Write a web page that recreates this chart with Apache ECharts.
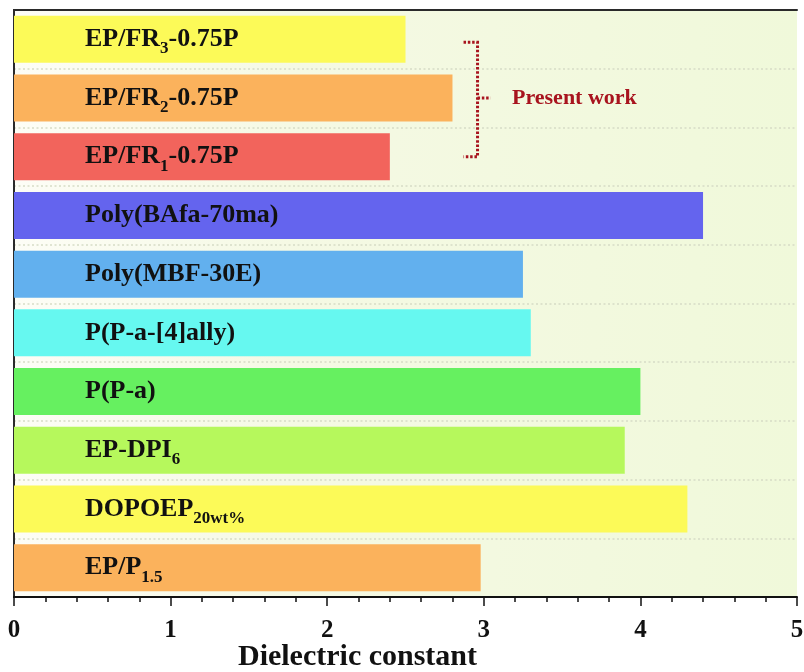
<!DOCTYPE html>
<html>
<head>
<meta charset="utf-8">
<script src="https://cdn.jsdelivr.net/npm/echarts@6/dist/echarts.min.js"></script>
<style>
  html, body { margin: 0; padding: 0; background: #ffffff; }
  #chart { width: 804px; height: 672px; }
</style>
</head>
<body>
<div id="chart"></div>
<script>
// Materials, listed top to bottom
const materials = [
  'EP/FR3-0.75P', 'EP/FR2-0.75P', 'EP/FR1-0.75P',
  'Poly(BAfa-70ma)', 'Poly(MBF-30E)', 'P(P-a-[4]ally)',
  'P(P-a)', 'EP-DPI6', 'DOPOEP20wt%', 'EP/P1.5'
];
// Bar labels: [main text, subscript, trailing text]
const labelParts = [
  ['EP/FR', '3', '-0.75P'], ['EP/FR', '2', '-0.75P'], ['EP/FR', '1', '-0.75P'],
  ['Poly(BAfa-70ma)', '', ''], ['Poly(MBF-30E)', '', ''], ['P(P-a-[4]ally)', '', ''],
  ['P(P-a)', '', ''], ['EP-DPI', '6', ''], ['DOPOEP', '20wt%', ''], ['EP/P', '1.5', '']
];
// Dielectric constant values
const dielectric = [2.5, 2.8, 2.4, 4.4, 3.25, 3.3, 4.0, 3.9, 4.3, 2.98];
const barColors = [
  '#fcfa58', '#fbb25c', '#f2645c', '#6464ee', '#62b0ee',
  '#66f8f0', '#66f060', '#b6f85c', '#fcfa58', '#fbb25c'
];
const xTicks = [0, 1, 2, 3, 4, 5];
const presentWork = ['EP/FR3-0.75P', 'EP/FR2-0.75P', 'EP/FR1-0.75P'];

const SERIF = '"Liberation Serif", "Times New Roman", serif';
const chart = echarts.init(document.getElementById('chart'), null, { renderer: 'canvas' });

function richLabel(idx) {
  const p = labelParts[idx];
  let s = '{m|' + p[0] + '}';
  if (p[1]) s += '{s|' + p[1] + '}';
  if (p[2]) s += '{m|' + p[2] + '}';
  return s;
}

const frameLine = { show: true, lineStyle: { color: '#2a2a2a', width: 2 } };

chart.setOption({
  backgroundColor: '#ffffff',
  animation: false,
  grid: {
    left: 14, right: 7, top: 10, bottom: 75,
    outerBoundsMode: 'none',
    containLabel: false,
    show: true,
    borderWidth: 0,
    backgroundColor: new echarts.graphic.LinearGradient(0, 0, 1, 0, [
      { offset: 0, color: '#fdfdf6' },
      { offset: 0.35, color: '#f5f9e4' },
      { offset: 1, color: '#f0f9da' }
    ])
  },
  xAxis: [{
    type: 'value',
    min: xTicks[0], max: xTicks[xTicks.length - 1], interval: 1,
    axisLine: { show: true, lineStyle: { color: '#111', width: 2 } },
    axisTick: { show: true, length: 9, lineStyle: { color: '#111', width: 1.5 } },
    minorTick: { show: true, splitNumber: 5, length: 5, lineStyle: { color: '#111', width: 1.5 } },
    splitLine: { show: false },
    axisLabel: {
      margin: 21, color: '#111',
      fontFamily: SERIF, fontWeight: 'bold', fontSize: 25
    },
    name: 'Dielectric constant',
    nameLocation: 'middle',
    nameMoveOverlap: false,
    nameGap: 45,
    nameTextStyle: {
      color: '#111', fontFamily: SERIF, fontWeight: 'bold', fontSize: 30,
      padding: [0, 96, 0, 0]
    }
  }, {
    // top frame edge
    type: 'value', position: 'top',
    min: xTicks[0], max: xTicks[xTicks.length - 1], interval: 1,
    axisLine: frameLine, axisTick: { show: false }, axisLabel: { show: false },
    splitLine: { show: false }
  }],
  yAxis: [{
    type: 'category',
    data: materials,
    inverse: true,
    axisLine: { show: true, lineStyle: { color: '#111', width: 2 } },
    axisTick: { show: false },
    axisLabel: { show: false },
    splitLine: {
      show: true,
      lineStyle: { color: '#d6dcc6', width: 1.5, type: [2, 2.5] }
    }
  }, {
    // right frame edge
    type: 'category', position: 'right',
    data: materials, inverse: true,
    axisLine: frameLine, axisTick: { show: false }, axisLabel: { show: false },
    splitLine: { show: false }
  }],
  series: [{
    type: 'bar',
    xAxisIndex: 0, yAxisIndex: 0,
    data: dielectric.map((v, i) => ({ value: v, itemStyle: { color: barColors[i] } })),
    barCategoryGap: '20%',
    label: {
      show: true,
      position: [71, '50%'],
      align: 'left',
      verticalAlign: 'middle',
      formatter: (p) => richLabel(p.dataIndex),
      rich: {
        m: { fontFamily: SERIF, fontWeight: 'bold', fontSize: 26, color: '#111', lineHeight: 36 },
        s: { fontFamily: SERIF, fontWeight: 'bold', fontSize: 17, color: '#111', lineHeight: 16, verticalAlign: 'bottom' }
      }
    }
  }]
});

// Dotted bracket grouping the present-work samples, placed through the axes
function drawBracket() {
  const xBr = chart.convertToPixel({ xAxisIndex: 0 }, 2.96);
  const yTop = chart.convertToPixel({ yAxisIndex: 0 }, presentWork[0]) + 3;
  const yMid = chart.convertToPixel({ yAxisIndex: 0 }, presentWork[1]);
  const yBot = chart.convertToPixel({ yAxisIndex: 0 }, presentWork[2]);
  const xText = chart.convertToPixel({ xAxisIndex: 0 }, 3.18);
  const dotStyle = { stroke: '#a8141e', lineWidth: 3, lineDash: [2.5, 1.8], fill: null };
  chart.setOption({
    graphic: [
      {
        type: 'polyline', silent: true, z: 100,
        shape: { points: [[xBr - 14, yTop], [xBr, yTop], [xBr, yBot], [xBr - 14, yBot]] },
        style: dotStyle
      },
      {
        type: 'line', silent: true, z: 100,
        shape: { x1: xBr, y1: yMid, x2: xBr + 13, y2: yMid },
        style: dotStyle
      },
      {
        type: 'text', silent: true, z: 100,
        x: xText, y: yMid,
        style: {
          text: 'Present work',
          fill: '#a8141e',
          font: 'bold 22px ' + SERIF,
          textAlign: 'left',
          textVerticalAlign: 'middle'
        }
      }
    ]
  });
}
drawBracket();
</script>
</body>
</html>
